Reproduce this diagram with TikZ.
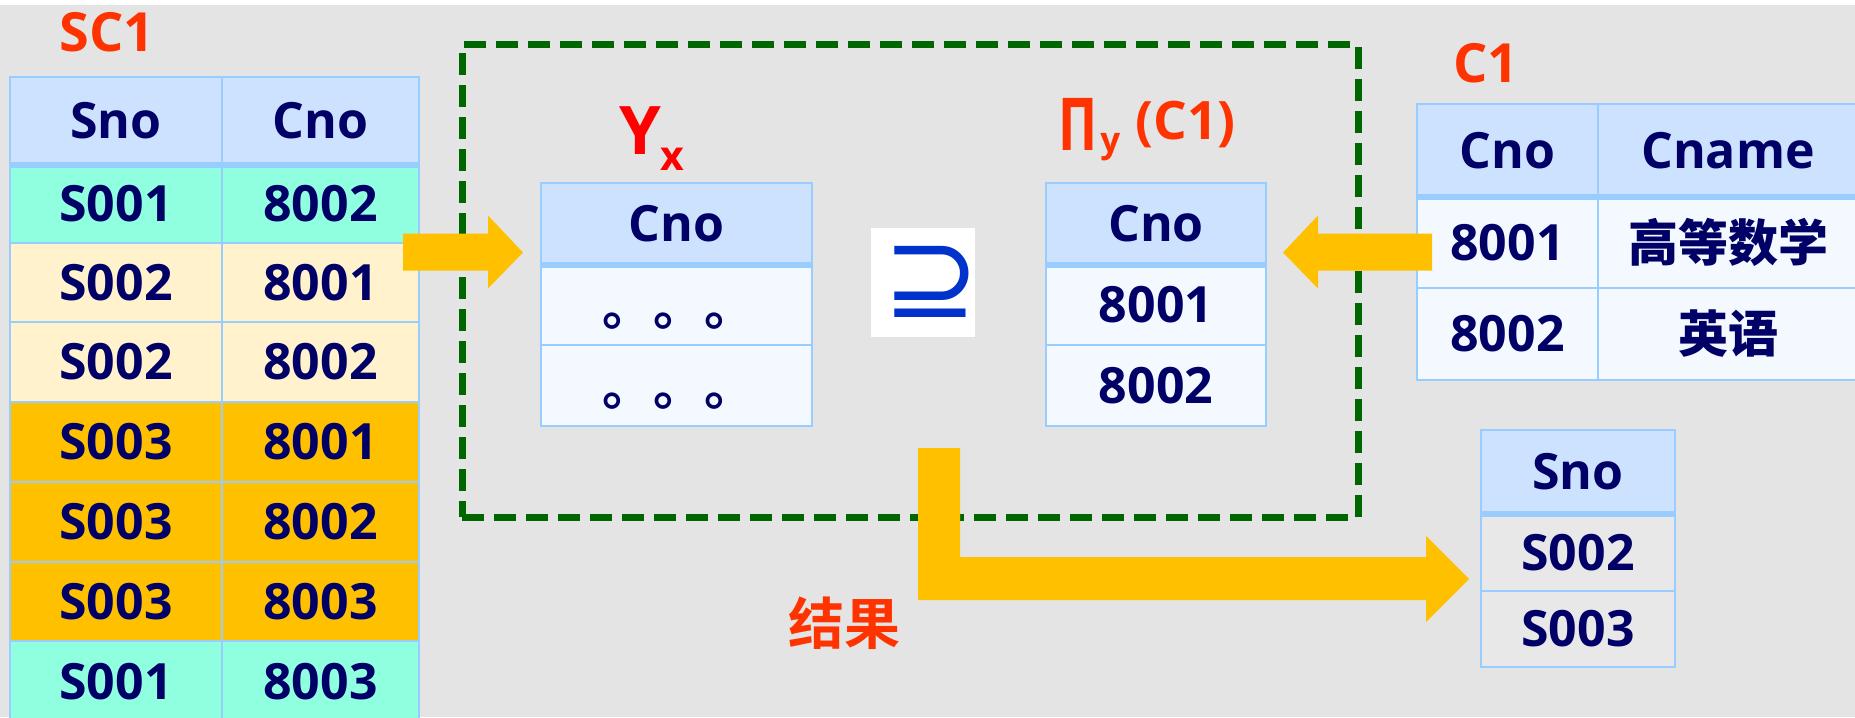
\documentclass[tikz,border=0pt]{standalone}
\usepackage{fontspec}
\setmainfont{Open Sans}[BoldFont={Open Sans Bold}]
\newfontfamily\cjk{Noto Sans CJK SC Bold}
\newfontfamily\symf{DejaVu Sans}
\usetikzlibrary{calc}
\definecolor{bgc}{RGB}{228,228,228}
\definecolor{navy}{RGB}{0,0,102}
\definecolor{hdr}{RGB}{204,226,255}
\definecolor{bordc}{RGB}{153,204,255}
\definecolor{aqua}{RGB}{144,255,224}
\definecolor{cream}{RGB}{255,242,204}
\definecolor{orng}{RGB}{255,192,0}
\definecolor{lrow}{RGB}{244,248,255}
\definecolor{grow}{RGB}{232,232,232}
\definecolor{ored}{RGB}{255,51,0}
\definecolor{pred}{RGB}{255,0,0}
\definecolor{dgreen}{RGB}{0,102,0}
\definecolor{arrc}{RGB}{255,192,0}
\definecolor{supc}{RGB}{0,51,204}
\newcommand\tfont{\fontsize{25pt}{30pt}\selectfont\bfseries}
\newcommand\tcell[7]{%
  \node[tcell,fill=#6,minimum width={(#4-#2)*0.5pt},minimum height={(#5-#3)*0.5pt}] (#1) at ({(#2+#4)/2},{(#3+#5)/2}) {#7};}
\tikzset{
  tcell/.style={draw=bordc,line width=1.4pt,inner sep=0pt,outer sep=0pt,text=navy,font=\tfont,anchor=center},
  hline/.style={draw=bordc,line width=3pt},
  lbl/.style={inner sep=0pt,anchor=base west,text=ored,font=\bfseries},
  blockarrow/.style={fill=arrc},
  groupbox/.style={draw=dgreen,line width=3.5pt,dash pattern=on 11pt off 5pt}
}
\begin{document}
\begin{tikzpicture}[x=0.5pt,y=-0.5pt]
\useasboundingbox (0,0) rectangle (1855,717);
\clip (0,0) rectangle (1855,717);
\fill[bgc] (0,0) rectangle (1855,717);
\fill[white] (0,0) rectangle (1855,5);

% SC1 table
\node[lbl,font=\fontsize{27pt}{30pt}\selectfont\bfseries] (sc1lbl) at (59,52) {SC1};
\tcell{sch1}{10}{77}{222}{165}{hdr}{Sno}
\tcell{sch2}{222}{77}{419}{165}{hdr}{Cno}
\foreach \i/\a/\b/\c/\t/\u in {1/S001/8002/aqua/165/243,2/S002/8001/cream/243/322,3/S002/8002/cream/322/402,4/S003/8001/orng/402/482,5/S003/8002/orng/482/562,6/S003/8003/orng/562/641,7/S001/8003/aqua/641/722}{
  \tcell{sc\i a}{10}{\t}{222}{\u}{\c}{\a}
  \tcell{sc\i b}{222}{\t}{419}{\u}{\c}{\b}
}
\draw[hline] (sch1.south west) -- (sch2.south east);

% dashed group box
\node[groupbox,inner sep=0pt,minimum width={(1358-462)*0.5pt},minimum height={(517-45)*0.5pt}] (grp) at ({(462+1358)/2},{(45+517)/2}) {};

% Yx table
\node[inner sep=0pt,anchor=base west,text=pred,font=\fontsize{33.5pt}{36pt}\selectfont\bfseries] (ylbl) at (619,155) {Y};
\node[inner sep=0pt,anchor=base west,text=pred,font=\fontsize{20.5pt}{24pt}\selectfont\bfseries] (xlbl) at (660,170) {x};
\tcell{yxh}{541}{183}{812}{265}{hdr}{Cno}
\tcell{yx1}{541}{265}{812}{345}{lrow}{}
\tcell{yx2}{541}{345}{812}{426}{lrow}{}
\node[inner sep=0pt,text=navy,font=\cjk\fontsize{25.5pt}{30pt}\selectfont] (yx1t) at ($(yx1.center)+(2,16)$) {。。。};
\node[inner sep=0pt,text=navy,font=\cjk\fontsize{25.5pt}{30pt}\selectfont] (yx2t) at ($(yx2.center)+(2,16)$) {。。。};
\draw[hline] (yxh.south west) -- (yxh.south east);

% superset symbol
\node[fill=white,inner sep=0pt,minimum width={104*0.5pt},minimum height={109*0.5pt}] (supbox) at (923,282.5) {};
\node[inner sep=0pt,text=supc,font=\symf\fontsize{58pt}{58pt}\selectfont] (supsym) at (931,282) {⊇};

% Pi_y(C1) table
\node[inner sep=0pt,anchor=base west,text=ored,font=\fontsize{36.5pt}{40pt}\selectfont\bfseries] (pilbl) at (1058,150) {\scalebox{0.72}[1]{Π}};
\node[inner sep=0pt,anchor=base west,text=ored,font=\fontsize{17.5pt}{20pt}\selectfont\bfseries] (ysub) at (1100,152) {y};
\node[inner sep=0pt,anchor=base west,text=ored,font=\fontsize{26.5pt}{30pt}\selectfont\bfseries] (c1arg) at (1135,140) {(C1)};
\tcell{pih}{1046}{183}{1266}{265}{hdr}{Cno}
\tcell{pi1}{1046}{265}{1266}{345}{lrow}{8001}
\tcell{pi2}{1046}{345}{1266}{426}{lrow}{8002}
\draw[hline] (pih.south west) -- (pih.south east);

% C1 table
\node[lbl,font=\fontsize{27pt}{30pt}\selectfont\bfseries] (c1lbl) at (1453,83) {C1};
\tcell{c1h1}{1417}{104}{1598}{197}{hdr}{Cno}
\tcell{c1h2}{1598}{104}{1858}{197}{hdr}{Cname}
\tcell{c1r1a}{1417}{197}{1598}{288}{lrow}{8001}
\tcell{c1r1b}{1598}{197}{1858}{288}{lrow}{\cjk 高等数学}
\tcell{c1r2a}{1417}{288}{1598}{380}{lrow}{8002}
\tcell{c1r2b}{1598}{288}{1858}{380}{lrow}{\cjk 英语}
\draw[hline] (c1h1.south west) -- (c1h2.south east);

% result table
\tcell{rh}{1481}{430}{1675}{514}{hdr}{Sno}
\tcell{r1}{1481}{514}{1675}{591}{grow}{S002}
\tcell{r2}{1481}{591}{1675}{667}{grow}{S003}
\draw[hline] (rh.south west) -- (rh.south east);

\node[inner sep=0pt,text=ored,font=\cjk\fontsize{28pt}{30pt}\selectfont] (reslbl) at (844,623) {结果};

% block arrows
\coordinate (la) at (403,252);
\fill[blockarrow] (la) ++(0,-18.5) -- ++(85,0) -- ++(0,-18) -- ++(35,37) -- ++(-35,36) -- ++(0,-18) -- ++(-85,0) -- cycle;
\coordinate (ra) at (1432,252);
\fill[blockarrow] (ra) ++(0,-18.5) -- ++(-114,0) -- ++(0,-18) -- ++(-35,37) -- ++(35,36) -- ++(0,-18) -- ++(114,0) -- cycle;
\coordinate (ba) at (939,448);
\fill[blockarrow] (ba) ++(-21,0) -- ++(42,0) -- ++(0,109) -- ++(466,0) -- ++(0,-21) -- ++(43,43) -- ++(-43,43) -- ++(0,-22) -- ++(-508,0) -- cycle;
\end{tikzpicture}
\end{document}
